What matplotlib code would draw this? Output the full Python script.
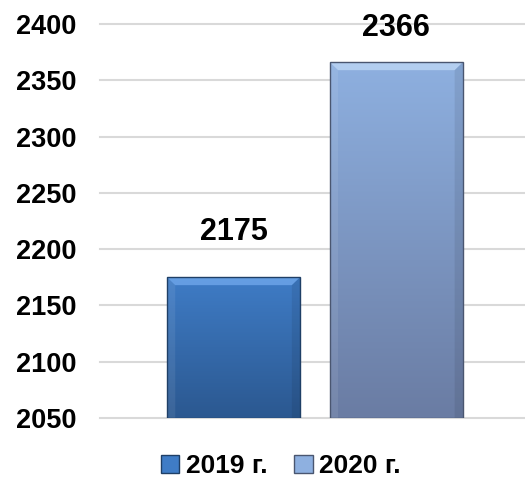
import numpy as np
import matplotlib
matplotlib.use("Agg")
import matplotlib.pyplot as plt
from matplotlib.colors import LinearSegmentedColormap
from matplotlib.patches import Patch, Polygon, Rectangle

plt.rcParams['font.family'] = ['Liberation Sans', 'DejaVu Sans']
plt.rcParams['font.weight'] = 'bold'

# data
years = ['2019 г.', '2020 г.']
values = [2175, 2366]
yticks = [2050, 2100, 2150, 2200, 2250, 2300, 2350, 2400]

# gradient colours (top, bottom) and bevel highlight per bar
grads = [('#3f7cc6', '#2b5890'), ('#8eb0e0', '#6a7ca3')]
bevel = ['#6aa2e6', '#b8d2f2']
edges = ['#1f3f66', '#4a5670']
label_offsets = [22, 14]

fig = plt.figure(figsize=(5.25, 4.82), dpi=100)
ax = fig.add_axes([0.1905, 0.1328, 0.8095, 0.8174])

base = yticks[0]
width = 0.816
xpos = np.arange(len(values))

for i, v in enumerate(values):
    x0, x1 = xpos[i] - width / 2, xpos[i] + width / 2
    cmap = LinearSegmentedColormap.from_list('g%d' % i, [grads[i][0], grads[i][1]])
    grad = np.linspace(0, 1, 256).reshape(-1, 1)
    ax.imshow(grad, extent=[x0, x1, base, v], origin='upper', cmap=cmap,
              aspect='auto', zorder=3, interpolation='bilinear')
    # bevel on top edge
    bx, by = 0.05, 7
    ax.add_patch(Polygon([[x0, v], [x1, v], [x1 - bx, v - by], [x0 + bx, v - by]],
                         closed=True, facecolor=bevel[i], edgecolor='none',
                         alpha=0.9, zorder=4))
    ax.add_patch(Polygon([[x0, v], [x0 + bx, v - by], [x0 + bx, base], [x0, base]],
                         closed=True, facecolor='white', edgecolor='none',
                         alpha=0.08, zorder=4))
    ax.add_patch(Polygon([[x1, v], [x1 - bx, v - by], [x1 - bx, base], [x1, base]],
                         closed=True, facecolor='black', edgecolor='none',
                         alpha=0.08, zorder=4))
    ax.add_patch(Rectangle((x0, base), width, v - base, fill=False,
                           edgecolor=edges[i], linewidth=1, zorder=5))
    ax.annotate(str(v), (xpos[i], v), xytext=(0, label_offsets[i]),
                textcoords='offset points', ha='center', va='bottom',
                fontsize=22, fontweight='bold', zorder=6)

ax.set_xlim(-0.82, 1.79)
ax.set_ylim(yticks[0], yticks[-1])
ax.set_yticks(yticks)
ax.set_xticks([])
ax.tick_params(axis='y', length=0, pad=17, labelsize=19.5)
for lbl in ax.get_yticklabels():
    lbl.set_fontweight('bold')
for y in yticks:
    ax.axhline(y, color='#d9d9d9', linewidth=1.5, zorder=1, clip_on=False)
for s in ax.spines.values():
    s.set_visible(False)

handles = [Patch(facecolor=grads[i][0], edgecolor=edges[i], label=years[i])
           for i in range(len(years))]
fig.legend(handles=handles, loc='center', bbox_to_anchor=(0.535, 0.033),
           ncol=2, frameon=False, handlelength=0.7, handleheight=0.7,
           handletextpad=0.25, columnspacing=1.0,
           prop={'weight': 'bold', 'size': 19})

fig.savefig('out.png', dpi=100)
